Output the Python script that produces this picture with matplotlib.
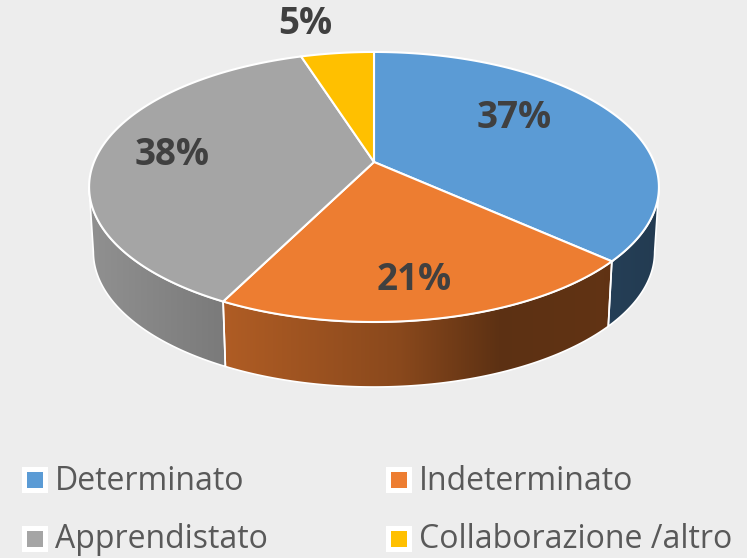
import numpy as np
import matplotlib
matplotlib.use("Agg")
import matplotlib.pyplot as plt
from matplotlib.patches import Polygon, Rectangle

# data
labels = ["Determinato", "Indeterminato", "Apprendistato", "Collaborazione /altro"]
shares = [37, 21, 38, 5]
pct_text = ["37%", "21%", "38%", "5%"]
colors = ["#5B9BD5", "#ED7D31", "#A5A5A5", "#FFC000"]

BG = "#EDEDED"
W, H = 747, 558

# pie geometry in pixel space (perspective disc)
CX, CY = 374, 162
RX, RY = 280, 130.4
K = 0.185
DEPTH = 65
BOTTOM_SCALE = 0.985


def project(a):
    u, v = np.cos(a), np.sin(a)
    d = 1 + K * v
    return CX + RX * u / d, CY - RY * v / d


# side shading vs screen x
shade_x = [85, 225, 400, 500, 600, 665]
shade_f = [0.88, 0.74, 0.58, 0.39, 0.41, 0.38]

fig = plt.figure(figsize=(W / 100, H / 100), dpi=100, facecolor=BG)
ax = fig.add_axes([0, 0, 1, 1])
ax.set_xlim(0, W)
ax.set_ylim(H, 0)
ax.axis("off")
ax.set_facecolor(BG)

frac = np.array(shares, dtype=float) / sum(shares)
starts = np.pi / 2 - 2 * np.pi * np.concatenate([[0], np.cumsum(frac)[:-1]])
ends = starts - 2 * np.pi * frac

# visible side range
a_lo = -np.pi + np.arcsin(K)
a_hi = -np.arcsin(K)

xs_grad = np.linspace(0, W, 600)
fac = np.interp(xs_grad, shade_x, shade_f)

for s, e, c in zip(starts, ends, colors):
    lo, hi = e, s
    for shift in (0, -2 * np.pi, 2 * np.pi):
        l2, h2 = max(lo + shift, a_lo), min(hi + shift, a_hi)
        if h2 > l2:
            t = np.linspace(h2, l2, 200)
            x, y = project(t)
            xb = CX + (x - CX) * BOTTOM_SCALE
            px = np.concatenate([x, xb[::-1]])
            py = np.concatenate([y, y[::-1] + DEPTH])
            ax.add_patch(Polygon(np.column_stack([px, py]), closed=True,
                                 facecolor="none", edgecolor="white", lw=1.2, zorder=3))
            rgb = np.array(matplotlib.colors.to_rgb(c))
            img = (fac[:, None] * rgb[None, :])[None, :, :]
            im = ax.imshow(np.repeat(img, 2, axis=0), extent=[0, W, H, 0],
                           aspect="auto", zorder=2, interpolation="bilinear")
            clip = Polygon(np.column_stack([px, py]), closed=True,
                           transform=ax.transData, facecolor="none", edgecolor="none")
            ax.add_patch(clip)
            im.set_clip_path(clip)

# top faces
for s, e, c in zip(starts, ends, colors):
    t = np.linspace(s, e, 200)
    x, y = project(t)
    px = np.concatenate([[CX], x])
    py = np.concatenate([[CY], y])
    ax.add_patch(Polygon(np.column_stack([px, py]), closed=True,
                         facecolor=c, edgecolor="white", lw=1.5, zorder=4))

ax.set_xlim(0, W)
ax.set_ylim(H, 0)

# percentage labels
lab_pos = [(514, 118), (414, 280), (172, 155), (305, 24)]
for (lx, ly), txt in zip(lab_pos, pct_text):
    ax.text(lx, ly, txt, fontsize=26.5, fontweight="bold", color="#404040",
            family="Open Sans", ha="center", va="center", zorder=6)

# legend
leg_pos = [(22, 480), (386, 480), (22, 539), (386, 539)]
for (lx, ly), lab, c in zip(leg_pos, labels, colors):
    ax.add_patch(Rectangle((lx, ly - 13), 26, 26, facecolor="white",
                           edgecolor="none", zorder=5))
    ax.add_patch(Rectangle((lx + 5, ly - 8), 16, 16, facecolor=c,
                           edgecolor="none", zorder=6))
    ax.text(lx + 33, ly + 1, lab, fontsize=23, color="#595959",
            family="Open Sans", ha="left", va="center", zorder=6)

fig.savefig("out.png", dpi=100, facecolor=BG)
